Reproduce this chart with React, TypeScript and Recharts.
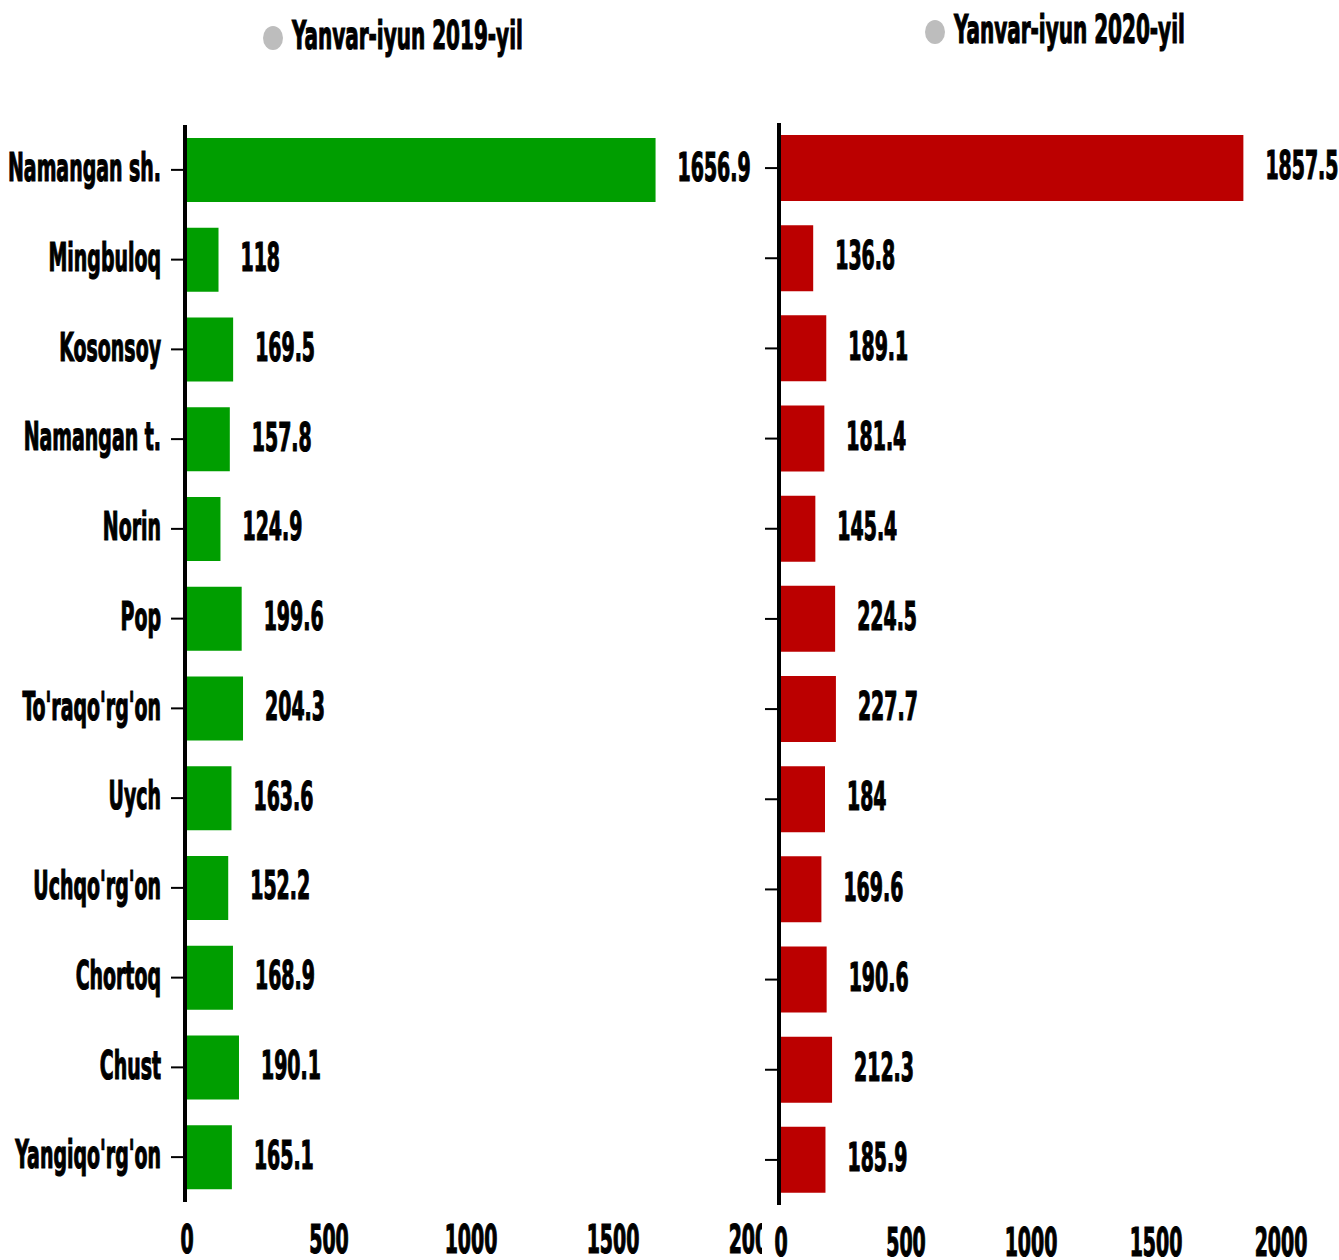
import { BarChart, Bar, XAxis, YAxis, LabelList } from "recharts";

const districts = [
  "Namangan sh.",
  "Mingbuloq",
  "Kosonsoy",
  "Namangan t.",
  "Norin",
  "Pop",
  "To'raqo'rg'on",
  "Uych",
  "Uchqo'rg'on",
  "Chortoq",
  "Chust",
  "Yangiqo'rg'on",
];
const values2019 = [1656.9, 118, 169.5, 157.8, 124.9, 199.6, 204.3, 163.6, 152.2, 168.9, 190.1, 165.1];
const values2020 = [1857.5, 136.8, 189.1, 181.4, 145.4, 224.5, 227.7, 184, 169.6, 190.6, 212.3, 185.9];
const xTicks = [0, 500, 1000, 1500, 2000];
const legend2019 = "Yanvar-iyun 2019-yil";
const legend2020 = "Yanvar-iyun 2020-yil";

const data = districts.map((name, i) => ({
  name,
  v2019: values2019[i],
  v2020: values2020[i],
}));

const FONT = "'DejaVu Sans Condensed', 'Liberation Sans Narrow', sans-serif";
const FS = 39;
const SX = 0.54;

// condensed bold look: squeeze horizontally
const SqueezedText = ({ x, y, anchor, sx = SX, children }: any) => (
  <g transform={`translate(${x},${y}) scale(${sx},1)`}>
    <text
      x={0}
      y={0}
      dy="0.29em"
      textAnchor={anchor}
      fontFamily={FONT}
      fontWeight="bold"
      fontSize={FS}
      fill="#000"
      stroke="#000"
      strokeWidth={1.2}
    >
      {children}
    </text>
  </g>
);

const CategoryTick = ({ x, y, payload }: any) => (
  <SqueezedText x={x} y={y} anchor="end">
    {payload.value}
  </SqueezedText>
);

const EmptyTick = () => <g />;

const NumberTick = ({ x, y, payload }: any) => (
  <SqueezedText x={x + 2} y={y + 32} anchor="middle">
    {payload.value}
  </SqueezedText>
);

const ValueLabel = ({ x, y, width, height, value }: any) => (
  <SqueezedText x={x + width + 22} y={y + height / 2} anchor="start">
    {value}
  </SqueezedText>
);

const LegendItem = ({ cx, cy, label }: any) => (
  <g>
    <ellipse cx={cx} cy={cy} rx={10} ry={12} fill="#bdbdbd" />
    <SqueezedText x={cx + 19} y={cy} anchor="start" sx={0.57}>
      {label}
    </SqueezedText>
  </g>
);

export default function App() {
  return (
    <div style={{ position: "relative", width: 1339, height: 1260, background: "#fff", overflow: "hidden" }}>
      <style>{"body{margin:0}"}</style>

      <div style={{ position: "absolute", left: 0, top: 0 }}>
        <BarChart
          width={780}
          height={1260}
          layout="vertical"
          data={data}
          margin={{ top: 125, right: 27, bottom: 0, left: 0 }}
        >
          <XAxis
            type="number"
            domain={[0, 2000]}
            ticks={xTicks}
            axisLine={false}
            tickLine={false}
            height={58}
            tick={<NumberTick />}
            interval={0}
          />
          <YAxis
            type="category"
            dataKey="name"
            width={185}
            axisLine={{ stroke: "#000", strokeWidth: 4 }}
            tickLine={{ stroke: "#000", strokeWidth: 2 }}
            tickSize={14}
            tickMargin={10}
            tick={<CategoryTick />}
            interval={0}
          />
          <Bar dataKey="v2019" fill="#009e00" barSize={64} isAnimationActive={false}>
            <LabelList dataKey="v2019" content={<ValueLabel />} />
          </Bar>
        </BarChart>
      </div>

      <div style={{ position: "absolute", left: 762, top: 0, background: "#fff" }}>
        <BarChart
          width={577}
          height={1260}
          layout="vertical"
          data={data}
          margin={{ top: 123, right: 60, bottom: 0, left: 0 }}
        >
          <XAxis
            type="number"
            domain={[0, 2000]}
            ticks={xTicks}
            axisLine={false}
            tickLine={false}
            height={55}
            tick={<NumberTick />}
            interval={0}
          />
          <YAxis
            type="category"
            dataKey="name"
            width={17}
            axisLine={{ stroke: "#000", strokeWidth: 4 }}
            tickLine={{ stroke: "#000", strokeWidth: 2 }}
            tickSize={14}
            tick={<EmptyTick />}
            interval={0}
          />
          <Bar dataKey="v2020" fill="#bb0000" barSize={66} isAnimationActive={false}>
            <LabelList dataKey="v2020" content={<ValueLabel />} />
          </Bar>
        </BarChart>
      </div>

      <svg width={1339} height={80} style={{ position: "absolute", left: 0, top: 0 }}>
        <LegendItem cx={273} cy={38} label={legend2019} />
        <LegendItem cx={935} cy={32} label={legend2020} />
      </svg>
    </div>
  );
}
